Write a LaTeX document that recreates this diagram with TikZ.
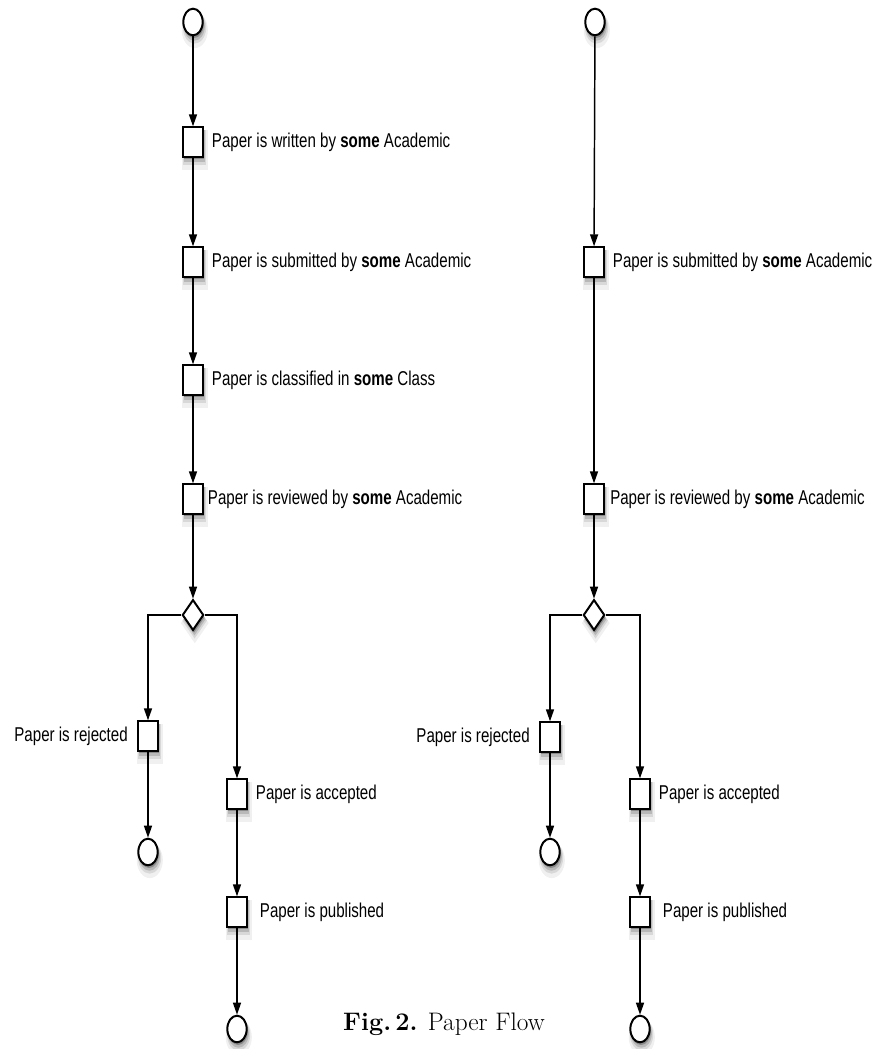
\documentclass[tikz,border=0pt]{standalone}
\usepackage{fontspec}
\newfontfamily\flowfont[FakeStretch=0.755]{Liberation Sans}
\usepackage{tikz}
\usetikzlibrary{arrows.meta,positioning,shapes,shadows}

\tikzset{
  soft/.style={
    general shadow={shadow xshift=1pt, shadow yshift=-4.5pt, shadow scale=1.35, fill=black, opacity=.06},
    general shadow={shadow xshift=1pt, shadow yshift=-3.5pt, shadow scale=1.2, fill=black, opacity=.1},
    general shadow={shadow xshift=1pt, shadow yshift=-3pt, shadow scale=1.08, fill=black, opacity=.15},
    general shadow={shadow xshift=.8pt, shadow yshift=-2pt, fill=black, opacity=.25}},
  ev/.style={ellipse, draw, line width=1.5pt, fill=white, inner sep=0pt,
    minimum width=14.5pt, minimum height=20pt, soft},
  act/.style={rectangle, draw, line width=1.5pt, fill=white, inner sep=0pt,
    minimum width=14.5pt, minimum height=22pt, soft},
  dec/.style={diamond, draw, line width=1.5pt, fill=white, inner sep=0pt,
    minimum width=16pt, minimum height=23pt, soft},
  txt/.style={inner sep=0pt, font=\flowfont\fontsize{15pt}{18pt}\selectfont},
  flow/.style={->, line width=1.1pt}
}

\begin{document}
\begin{tikzpicture}[x=.75pt, y=-.75pt, >={Triangle[length=9pt, width=6pt]}]
\useasboundingbox (0,0) rectangle (885,1049);
% left flow
\node[ev] (st) at (193,22) {};
\node[act] (wr) at (193,142) {};
\node[act] (sb) at (193,262) {};
\node[act] (cl) at (193,380) {};
\node[act] (rv) at (193,499) {};
\node[dec] (dc) at (193,615) {};
\node[act] (rj) at (148,736) {};
\node[act] (ac) at (237,794) {};
\node[ev] (ej) at (148,852) {};
\node[act] (pb) at (237,912) {};
\node[ev] (ep) at (237,1029) {};
\node[txt, right=6pt of wr] (wr-t) {Paper is written by \textbf{some} Academic};
\node[txt, right=6pt of sb] (sb-t) {Paper is submitted by \textbf{some} Academic};
\node[txt, right=6pt of cl] (cl-t) {Paper is classified in \textbf{some} Class};
\node[txt, right=3pt of rv] (rv-t) {Paper is reviewed by \textbf{some} Academic};
\node[txt, left=7pt of rj] (rj-t) {Paper is rejected};
\node[txt, right=6pt of ac] (ac-t) {Paper is accepted};
\node[txt, right=9pt of pb] (pb-t) {Paper is published};
\draw[flow] (st) -- (wr);
\draw[flow] (wr) -- (sb);
\draw[flow] (sb) -- (cl);
\draw[flow] (cl) -- (rv);
\draw[flow] (rv) -- (dc);
\draw[flow] (dc.west) -| (rj);
\draw[flow] (dc.east) -| (ac);
\draw[flow] (rj) -- (ej);
\draw[flow] (ac) -- (pb);
\draw[flow] (pb) -- (ep);
% right flow
\node[ev] (st2) at (595,22) {};
\node[act] (sb2) at (594,262) {};
\node[act] (rv2) at (594,499) {};
\node[dec] (dc2) at (594,615) {};
\node[act] (rj2) at (550,737) {};
\node[act] (ac2) at (640,794) {};
\node[ev] (ej2) at (550,852) {};
\node[act] (pb2) at (640,912) {};
\node[ev] (ep2) at (640,1029) {};
\node[txt, right=6pt of sb2] (sb2-t) {Paper is submitted by \textbf{some} Academic};
\node[txt, right=4pt of rv2] (rv2-t) {Paper is reviewed by \textbf{some} Academic};
\node[txt, left=7pt of rj2] (rj2-t) {Paper is rejected};
\node[txt, right=6pt of ac2] (ac2-t) {Paper is accepted};
\node[txt, right=9pt of pb2] (pb2-t) {Paper is published};
\draw[flow] (st2) -- (sb2);
\draw[flow] (sb2) -- (rv2);
\draw[flow] (rv2) -- (dc2);
\draw[flow] (dc2.west) -| (rj2);
\draw[flow] (dc2.east) -| (ac2);
\draw[flow] (rj2) -- (ej2);
\draw[flow] (ac2) -- (pb2);
\draw[flow] (pb2) -- (ep2);
% caption
\node[anchor=base, font=\fontsize{19pt}{23pt}\selectfont] (cap) at (444,1030) {\textbf{Fig.\,2.} Paper Flow};
\end{tikzpicture}
\end{document}
